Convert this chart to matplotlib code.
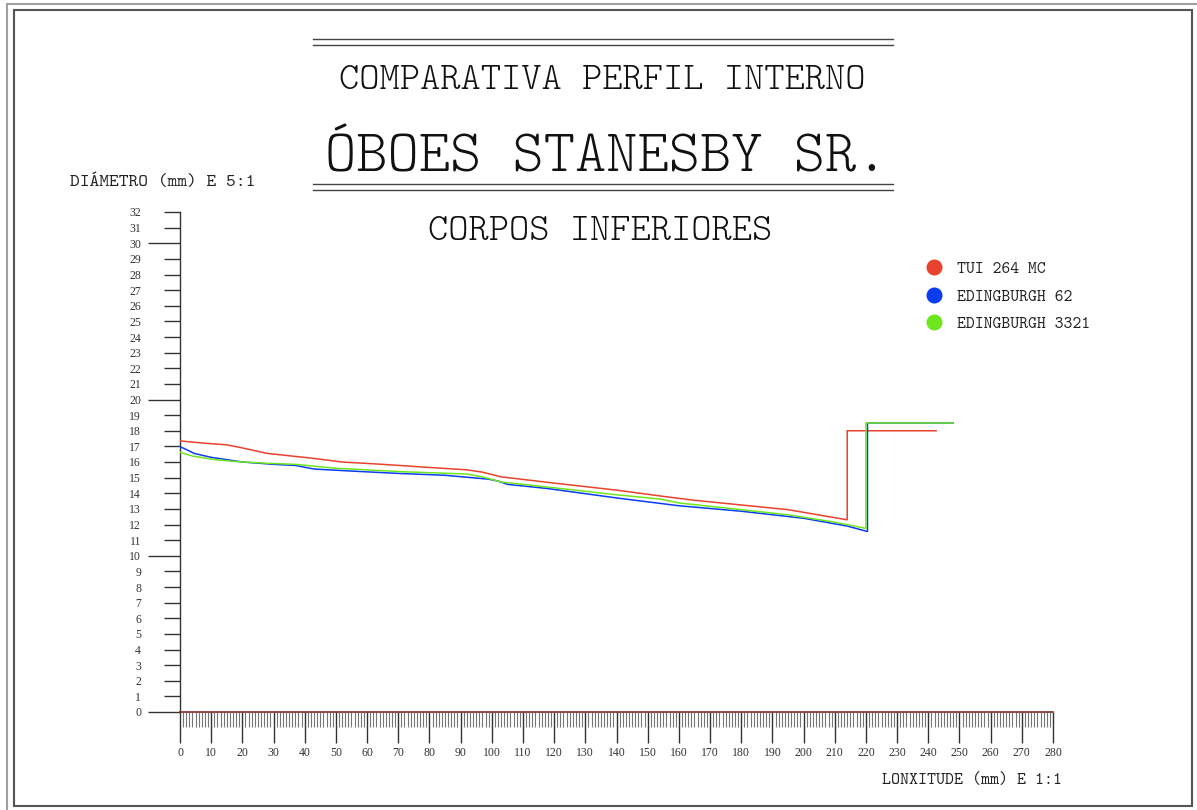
import matplotlib
matplotlib.use("Agg")
import matplotlib.pyplot as plt
from matplotlib.lines import Line2D
from matplotlib.patches import Rectangle
from matplotlib.ticker import MultipleLocator, FuncFormatter

# ---------------- data (length in mm, internal diameter in mm) ----------------
tui_x = [0, 8, 15, 20, 28, 35, 42, 52, 65, 80, 92, 97, 103, 120, 140, 155, 165, 180, 195, 214, 214, 242.5]
tui_y = [17.35, 17.2, 17.1, 16.9, 16.55, 16.4, 16.25, 16.0, 15.85, 15.65, 15.5, 15.35, 15.05, 14.65, 14.2, 13.8, 13.55, 13.25, 12.95, 12.3, 18.0, 18.0]

edi62_x = [0, 2, 4.5, 10, 20, 30, 37, 43, 55, 70, 85, 99, 102, 105, 118, 140, 160, 180, 200, 214, 220.5, 220.5, 248]
edi62_y = [16.98, 16.8, 16.55, 16.3, 16.0, 15.85, 15.78, 15.55, 15.42, 15.27, 15.15, 14.9, 14.78, 14.57, 14.3, 13.7, 13.2, 12.85, 12.4, 11.9, 11.55, 18.5, 18.5]

edi3321_x = [0, 4, 12, 20, 29, 37, 50, 71, 92, 97, 103, 120, 140, 154, 160, 180, 195, 210, 220, 220, 248]
edi3321_y = [16.62, 16.38, 16.13, 16.0, 15.91, 15.85, 15.6, 15.38, 15.23, 15.05, 14.72, 14.35, 13.9, 13.63, 13.38, 12.95, 12.62, 12.15, 11.75, 18.5, 18.5]

series_names = ["TUI 264 MC", "EDINGBURGH 62", "EDINGBURGH 3321"]
series_colors = ["#e8432d", "#0a3cf0", "#6ee61e"]

title1 = "COMPARATIVA PERFIL INTERNO"
title2 = "ÓBOES STANESBY SR."
title3 = "CORPOS INFERIORES"
ylabel = "DIÁMETRO (mm) E 5:1"
xlabel = "LONXITUDE (mm) E 1:1"

# ---------------- figure ----------------
W, H = 1197, 810
FONT = ["Latin Modern Mono Light", "DejaVu Serif"]
SMALLFONT = ["Latin Modern Mono", "DejaVu Serif"]
NUMFONT = ["Liberation Serif", "DejaVu Serif"]

fig = plt.figure(figsize=(W / 100, H / 100), dpi=100)
fig.patch.set_facecolor("white")


def fx(px):
    return px / W


def fy(py):
    return 1 - py / H


PT = 72 / 100  # points per pixel

ax = fig.add_axes([fx(180), fy(712), 873 / W, 500 / H])
ax.set_xlim(0, 280)
ax.set_ylim(0, 32)
ax.patch.set_alpha(0)

for name, xs, ys, col in zip(series_names, [tui_x, edi62_x, edi3321_x],
                             [tui_y, edi62_y, edi3321_y], series_colors):
    ax.plot(xs, ys, color=col, lw=1.1, solid_joinstyle="miter", zorder=3)

for s in ["top", "right"]:
    ax.spines[s].set_visible(False)
ax.spines["left"].set_color("#333333")
ax.spines["left"].set_linewidth(1.0)
ax.spines["bottom"].set_color("#7b2d26")
ax.spines["bottom"].set_linewidth(1.2)

# y ticks
ax.yaxis.set_major_locator(MultipleLocator(10))
ax.yaxis.set_minor_locator(MultipleLocator(1))
ax.yaxis.set_minor_formatter(FuncFormatter(lambda v, p: f"{int(round(v))}"))
ax.tick_params(axis="y", which="major", length=32 * PT, width=1.0, color="#333333",
               pad=7 * PT, labelsize=8.5)
ax.tick_params(axis="y", which="minor", length=16 * PT, width=1.0, color="#333333",
               pad=23 * PT, labelsize=8.5)

# x ticks
ax.xaxis.set_major_locator(MultipleLocator(10))
ax.xaxis.set_minor_locator(MultipleLocator(1))
ax.tick_params(axis="x", which="major", length=31 * PT, width=1.0, color="#333333",
               pad=4 * PT, labelsize=8.5)
ax.tick_params(axis="x", which="minor", length=15 * PT, width=0.8, color="#777777")

for lab in ax.get_xticklabels() + ax.get_yticklabels() + ax.get_yticklabels(minor=True):
    lab.set_family(NUMFONT)
    lab.set_color("#333333")

# legend
LEG_FS = 12.2
handles = [Line2D([], [], ls="none", marker="o", markersize=16 * PT, color=c,
                  markeredgewidth=0) for c in series_colors]
leg = ax.legend(handles, series_names, loc="upper left",
                bbox_to_anchor=(fx(925.5), fy(261.5)), bbox_transform=fig.transFigure,
                frameon=False, borderpad=0, borderaxespad=0, handlelength=1.0,
                handletextpad=0.85, labelspacing=0.68,
                prop={"family": SMALLFONT, "size": LEG_FS})
for t in leg.get_texts():
    t.set_color("#222222")

# titles
fig.text(fx(602), fy(89), title1, ha="center", va="baseline", family=FONT, fontsize=27.8, color="#111111")
fig.text(fx(606), fy(171), title2, ha="center", va="baseline", family=FONT, fontsize=42.9, color="#111111")
fig.text(fx(600), fy(240), title3, ha="center", va="baseline", family=FONT, fontsize=27.8, color="#111111")
fig.text(fx(70), fy(186), ylabel, ha="left", va="baseline", family=SMALLFONT, fontsize=13.4, color="#222222")
fig.text(fx(1062), fy(784), xlabel, ha="right", va="baseline", family=SMALLFONT, fontsize=12.3, color="#222222")

# double rules around the title
for py in (38.5, 44.5, 184, 190):
    fig.add_artist(Line2D([fx(313), fx(893)], [fy(py), fy(py)], color="#444444", lw=1.0))

# frame
fig.add_artist(Line2D([fx(7), fx(7)], [fy(4), fy(810)], color="#a0a0a0", lw=1.5))
fig.add_artist(Line2D([fx(7), fx(1197)], [fy(4), fy(4)], color="#a0a0a0", lw=1.5))
fig.add_artist(Rectangle((fx(14), fy(806)), fx(1192) - fx(14), fy(10) - fy(806),
                         transform=fig.transFigure, fill=False, edgecolor="#555555", lw=1.5))

fig.savefig("out.png", dpi=100)
